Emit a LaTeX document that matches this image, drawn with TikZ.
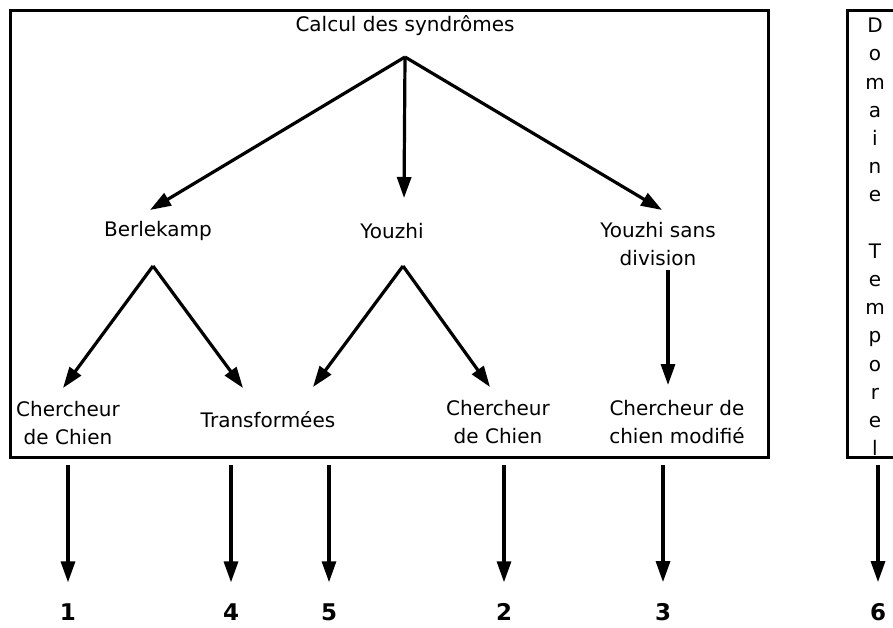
\documentclass[tikz,border=0pt]{standalone}
\usepackage{fontspec}
\setmainfont{DejaVu Sans}
\usetikzlibrary{arrows.meta, positioning}

\begin{document}
\begin{tikzpicture}[
    x=1pt, y=-1pt, % work in pixel units, y pointing down
    >={Triangle[length=21pt, width=14pt]}, % default arrow tip
    every node/.style={font=\fontsize{20}{28.5}\selectfont, inner sep=1pt},
    flow/.style={->, line width=3.2pt},
    frame/.style={line width=3pt},
    twoline/.style={align=center},
    num/.style={font=\fontsize{23}{26}\selectfont\bfseries}
]
    \useasboundingbox (0,0) rectangle (893,627);

    % Frames
    \draw[frame] (10,10) rectangle (768,457);
    \draw[frame] (905,10) -- (847,10) -- (847,457) -- (905,457);

    % Vertical label of the right frame
    \node[align=center, anchor=north, font=\fontsize{20}{28.2}\selectfont]
        (temps) at (875,17) {D\\o\\m\\a\\i\\n\\e\\ \\T\\e\\m\\p\\o\\r\\e\\l};

    % First level
    \node (synd) at (405,26) {Calcul des syndrômes};
    \coordinate (syndout) at (405,57);

    % Second level
    \node (berl) at (158,231) {Berlekamp};
    \node (youz) at (392,231) {Youzhi};
    \node[twoline] (ysd) at (658,244) {Youzhi sans\\division};

    \coordinate (berlin) at (150,210);
    \coordinate (youzin) at (404,198);
    \coordinate (ysdin)  at (662,210);

    \draw[flow] (syndout) -- (berlin);
    \draw[flow] (syndout) -- (youzin);
    \draw[flow] (syndout) -- (ysdin);

    % Third level
    \node[twoline] (chien1) at (68,423) {Chercheur\\de Chien};
    \node (trans) at (268,420) {Transformées};
    \node[twoline] (chien2) at (498,422) {Chercheur\\de Chien};
    \node[twoline] (chienm) at (677,422) {Chercheur de\\chien modifié};

    \coordinate (berlout) at (153,266);
    \coordinate (youzout) at (403,266);
    \coordinate (ysdout)  at (668,270);

    \draw[flow] (berlout) -- (63,388);
    \draw[flow] (berlout) -- (243,388);
    \draw[flow] (youzout) -- (313,387);
    \draw[flow] (youzout) -- (490,387);
    \draw[flow] (ysdout) -- (668,385);

    % Outputs
    \foreach \x/\n in {68/1, 231/4, 329/5, 504/2, 663/3, 878/6} {
        \node[num] (out\n) at (\x,612) {\n};
        \draw[flow] (\x,465) -- ([yshift=20pt]out\n.north);
    }

\end{tikzpicture}
\end{document}
